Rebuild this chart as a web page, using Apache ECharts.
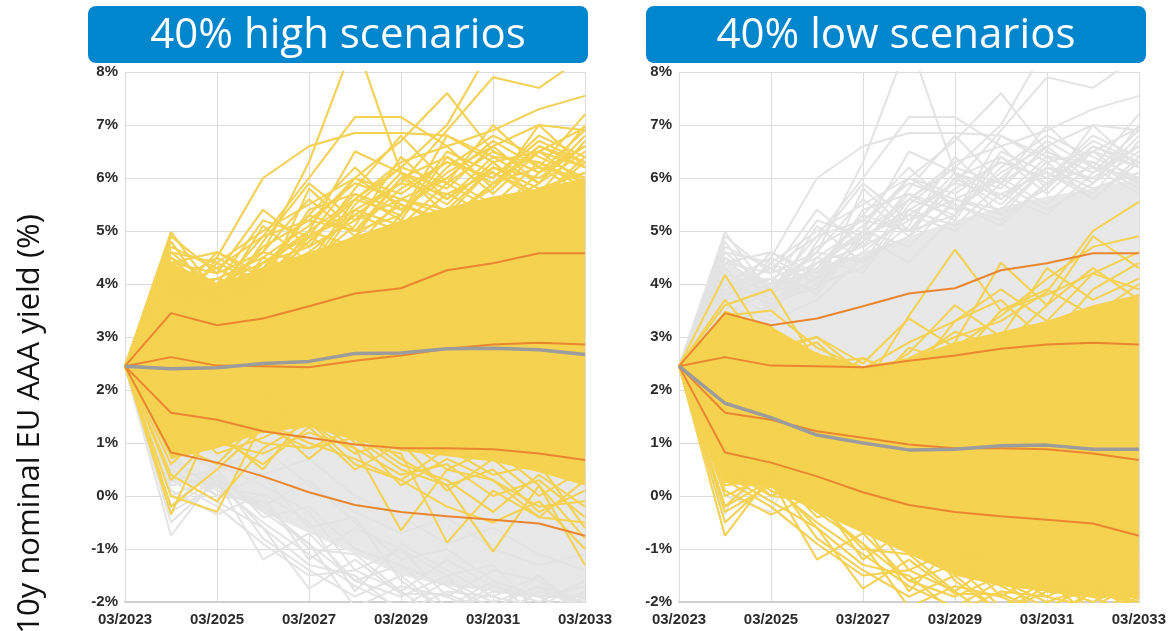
<!DOCTYPE html>
<html>
<head>
<meta charset="utf-8">
<script src="https://cdn.jsdelivr.net/npm/echarts@6/dist/echarts.min.js"></script>
<style>
  html, body { margin: 0; padding: 0; background: #ffffff; }
  #chart { width: 1169px; height: 631px; }
</style>
</head>
<body>
<div id="chart"></div>
<script>
// Simulated 10y nominal EU AAA yield paths, yearly points 03/2023 – 03/2033
const years = ['03/2023', '03/2024', '03/2025', '03/2026', '03/2027', '03/2028',
               '03/2029', '03/2030', '03/2031', '03/2032', '03/2033'];

const yTicks = { min: -2, max: 8, step: 1 };
const panelTitles = ['40% high scenarios', '40% low scenarios'];
const axisTitle = '10y nominal EU AAA yield (%)';

// Edges of the dense cloud of all scenarios
const cloudTop    = [2.45, 4.4, 4.0, 4.3, 4.6, 4.9, 5.2, 5.45, 5.65, 5.8, 6.0];
const cloudBottom = [2.45, 0.25, 0.15, -0.3, -0.7, -1.1, -1.5, -1.7, -1.8, -1.9, -1.9];
// Lower edge of the dense part of the high group
const highCoreBottom = [2.45, 0.7, 0.9, 1.2, 1.3, 1.05, 0.85, 0.75, 0.65, 0.45, 0.2];
// Upper edge of the dense part of the low group
const lowCoreTop = [2.45, 3.5, 3.2, 2.7, 2.45, 2.6, 2.9, 3.1, 3.3, 3.6, 3.8];

// Individual paths of the high group that stand out from the cloud
const highPaths = [
  [2.45, 3.3, 4.5, 6.0, 6.6, 6.85, 6.85, 6.8, 6.3, 6.5, 6.95],
  [2.45, 3.6, 3.9, 4.6, 6.3, 8.6, 6.1, 5.6, 6.2, 5.8, 6.1],
  [2.45, 3.8, 3.9, 4.9, 6.0, 7.15, 7.15, 6.6, 6.9, 7.3, 7.55],
  [2.45, 3.9, 3.4, 4.5, 5.1, 6.0, 6.7, 7.6, 6.5, 6.1, 6.6],
  [2.45, 4.0, 4.1, 3.9, 5.0, 5.6, 6.2, 7.0, 8.5, 8.2, 8.4],
  [2.45, 4.8, 3.6, 4.4, 4.9, 5.4, 5.9, 6.9, 7.9, 7.7, 8.3],
  [2.45, 4.98, 3.8, 4.3, 5.3, 5.0, 5.8, 6.3, 6.0, 6.7, 6.3],
  [2.45, 4.4, 4.2, 5.4, 4.7, 5.8, 6.8, 5.9, 7.0, 6.2, 7.2],
  [2.45, 3.7, 4.6, 4.2, 5.3, 6.2, 5.4, 6.1, 6.6, 5.9, 6.8],
  [2.45, 4.1, 3.7, 5.1, 4.4, 5.6, 6.3, 6.6, 5.8, 7.0, 6.2],
  [2.45, 4.6, 3.9, 4.6, 5.6, 4.9, 6.0, 5.5, 6.3, 5.6, 6.4],
  [2.45, 3.5, 4.4, 4.0, 4.8, 5.7, 5.2, 6.4, 5.7, 6.5, 5.9],
  [2.45, 4.3, 3.5, 4.8, 5.9, 5.2, 5.6, 5.3, 6.2, 6.0, 6.6],
  [2.45, 3.9, 4.3, 4.9, 5.2, 5.9, 5.6, 6.0, 5.5, 6.3, 5.8],
  [2.45, 4.5, 4.0, 4.4, 5.0, 6.5, 6.1, 5.8, 6.6, 7.0, 6.9],
  [2.45, 3.2, 3.6, 4.1, 4.6, 5.3, 5.0, 5.7, 6.1, 5.6, 6.3],
  [2.45, 3.6, 3.3, 3.7, 4.5, 4.9, 5.5, 5.2, 5.9, 6.2, 5.7],
  [2.45, 4.0, 4.5, 4.0, 4.3, 5.5, 6.2, 5.9, 5.4, 5.9, 6.5],
  [2.45, 4.7, 4.3, 3.8, 4.9, 4.4, 5.3, 6.2, 6.8, 6.4, 6.0],
  [2.45, 4.2, 3.8, 4.7, 5.2, 5.0, 6.0, 6.4, 5.9, 6.6, 6.2],
  [2.45, 3.8, 4.1, 4.5, 4.2, 5.4, 5.1, 5.9, 6.5, 6.1, 6.9],
  [2.45, 4.6, 4.4, 5.0, 5.5, 6.0, 5.7, 6.3, 6.0, 6.8, 6.4],
  [2.45, 3.4, 3.9, 4.3, 5.0, 4.7, 5.6, 5.4, 6.2, 5.8, 6.1],
  [2.45, 4.1, 3.6, 4.0, 4.8, 5.6, 5.3, 6.5, 6.1, 5.7, 6.7],
  [2.45, 4.9, 4.2, 4.6, 4.4, 5.1, 6.4, 5.6, 6.4, 6.3, 5.9],
  [2.45, 3.7, 4.0, 5.2, 4.9, 5.3, 5.9, 5.7, 5.3, 6.1, 6.6],
  [2.45, 4.4, 4.6, 4.1, 5.4, 5.7, 5.4, 6.0, 6.7, 6.2, 6.0],
  [2.45, 3.3, 3.5, 4.4, 4.7, 5.2, 6.1, 5.3, 5.8, 6.6, 6.3],
  [2.45, 4.0, 3.7, 3.9, 5.8, 5.0, 5.3, 6.8, 6.4, 5.9, 7.0],
  [2.45, 4.5, 3.7, 4.1, 4.9, 6.0, 5.5, 5.1, 5.9, 6.5, 6.2],
  [2.45, -0.35, 1.6, 1.9, 2.2, 1.6, 1.2, 0.8, 1.5, 1.2, 1.0],
  [2.45, 0.0, -0.3, 1.4, 1.9, 2.3, 1.5, 1.8, 2.0, 2.4, 2.2],
  [2.45, 0.3, 1.2, 0.5, 1.6, 2.0, 2.5, 1.9, 2.7, 2.5, 3.0],
  [2.45, 1.0, 0.6, 1.5, 0.7, 1.4, 1.0, 1.6, 1.3, 1.0, 1.4],
  [2.45, 1.8, 1.3, 1.7, 1.5, 0.9, -0.65, 0.5, 0.3, -0.2, -0.1],
  [2.45, 1.6, 1.1, 1.3, 1.8, 1.0, 0.8, -0.88, 0.1, -0.4, -0.5],
  [2.45, 2.0, 1.5, 1.9, 1.6, 1.1, 0.5, 0.2, -1.05, 0.2, -1.3],
  [2.45, 1.4, 1.8, 1.2, 1.4, 0.6, 0.3, -0.2, -0.5, -0.1, -1.0],
  [2.45, 1.2, 1.0, 0.8, 1.2, 0.9, 0.4, 0.6, 0.0, 0.3, -0.4],
  [2.45, 0.6, 1.4, 1.0, 0.9, 1.3, 0.7, 0.2, 0.5, -0.3, 0.1],
  [2.45, 1.5, 1.2, 1.4, 1.0, 0.7, 0.3, 0.9, 0.4, 0.6, -0.6],
  [2.45, 0.9, 1.1, 0.6, 1.3, 0.5, 1.0, 0.1, 0.7, 0.0, 0.5],
  [2.45, 1.7, 0.8, 1.1, 1.5, 1.2, 0.6, 0.3, -0.3, 0.4, -0.2],
  [2.45, -0.2, 0.5, 1.3, 0.9, 1.1, 0.2, 0.7, 0.3, -0.4, 0.3],
  [2.45, 0.4, -0.1, 0.9, 1.4, 0.8, 1.1, 0.5, 0.9, 0.2, -0.8]
];

// Individual paths of the low group that stand out from the cloud
const lowPaths = [
  [2.45, -0.75, 0.4, -0.2, 0.3, -0.5, -1.2, -1.0, -1.6, -1.9, -1.9],
  [2.45, -0.3, 0.2, 0.0, -1.2, -0.6, -1.0, -1.5, -1.3, -2.2, -1.8],
  [2.45, 0.1, -0.35, 0.05, -0.5, -1.8, -0.9, -1.4, -1.9, -1.5, -2.3],
  [2.45, 0.5, 0.0, -0.1, -1.0, -1.1, -1.8, -1.2, -1.7, -2.0, -1.6],
  [2.45, 0.2, 0.35, -0.3, -0.9, -1.6, -1.9, -1.5, -2.4, -1.8, -2.0],
  [2.45, -0.2, 0.6, 0.2, -0.3, -1.4, -1.0, -1.9, -1.4, -1.6, -2.1],
  [2.45, 0.8, 0.0, 0.4, -0.6, -0.4, -1.6, -2.2, -1.8, -1.9, -1.7],
  [2.45, 0.3, 0.5, -0.4, -0.2, -1.0, -1.3, -1.7, -2.1, -1.7, -1.95],
  [2.45, 0.9, 0.5, 0.9, 0.2, -0.3, -0.7, -0.4, -1.0, -1.3, -1.1],
  [2.45, 1.1, 0.8, 0.4, 0.7, 0.0, -0.4, -0.9, -0.6, -1.1, -1.4],
  [2.45, 0.4, -0.1, -0.6, -1.75, -1.2, -1.85, -1.85, -2.2, -1.5, -2.2],
  [2.45, -0.2, 0.3, -1.2, -0.7, -1.6, -1.3, -2.1, -1.6, -2.3, -1.9],
  [2.45, 0.6, 0.2, -0.5, -1.1, -1.7, -2.1, -1.6, -2.0, -2.4, -1.8],
  [2.45, 0.0, 0.4, -0.8, -1.4, -1.9, -1.5, -2.2, -1.7, -1.9, -2.3],
  [2.45, 0.7, 0.1, -0.2, -0.9, -2.1, -1.7, -1.9, -2.3, -1.8, -2.0],
  [2.45, -0.5, 0.3, -0.6, -1.3, -1.5, -2.2, -1.8, -1.9, -2.1, -1.6],
  [2.45, 0.3, -0.2, -0.9, -1.5, -1.4, -1.8, -2.4, -2.0, -1.7, -2.2],
  [2.45, 2.9, 2.5, 2.1, 2.0, 3.4, 4.65, 3.5, 3.8, 4.2, 3.9],
  [2.45, 4.17, 2.8, 3.0, 2.3, 2.6, 3.0, 3.3, 3.85, 5.0, 5.55],
  [2.45, 3.6, 3.9, 2.5, 2.6, 2.2, 2.9, 4.4, 3.6, 4.9, 4.3],
  [2.45, 3.7, 2.7, 3.0, 2.5, 3.35, 2.8, 3.4, 4.1, 4.7, 4.9],
  [2.45, 3.4, 3.5, 2.8, 2.4, 2.9, 3.3, 3.9, 3.3, 4.2, 4.6],
  [2.45, 3.1, 2.6, 2.9, 2.1, 2.7, 3.6, 3.0, 4.3, 3.7, 4.1],
  [2.45, 1.9, 1.2, 1.5, 0.8, 1.6, 2.2, 2.8, 2.5, 3.4, 3.8],
  [2.45, 2.2, 2.9, 2.0, 2.6, 2.2, 3.3, 3.7, 2.9, 3.9, 4.4],
  [2.45, 3.3, 2.4, 2.7, 1.9, 2.8, 2.5, 3.5, 3.9, 3.4, 4.0],
  [2.45, 2.7, 3.2, 2.3, 2.2, 2.5, 3.1, 2.8, 3.6, 4.3, 3.7]
];

// Percentile bands across all scenarios
const pctUpper  = [2.45, 3.45, 3.22, 3.35, 3.58, 3.82, 3.92, 4.26, 4.39, 4.58, 4.58];
const pctMidHi  = [2.45, 2.62, 2.46, 2.45, 2.43, 2.55, 2.65, 2.78, 2.86, 2.89, 2.86];
const pctMidLo  = [2.45, 1.57, 1.44, 1.22, 1.1, 0.97, 0.9, 0.9, 0.88, 0.8, 0.68];
const pctLower  = [2.45, 0.82, 0.63, 0.37, 0.07, -0.17, -0.3, -0.38, -0.45, -0.52, -0.75];

// Median path of each selected group
const highMedian = [2.45, 2.4, 2.42, 2.5, 2.54, 2.69, 2.7, 2.78, 2.79, 2.76, 2.67];
const lowMedian  = [2.45, 1.75, 1.48, 1.15, 1.0, 0.87, 0.88, 0.95, 0.96, 0.88, 0.88];

const YELLOW = '#F5D24F';
const CLOUD_GREY = '#E8E8E8';
const PATH_GREY = '#E3E3E3';
const ORANGE = '#EA862F';
const MEDIAN_GREY = '#9C9C9C';
const TITLE_BLUE = '#0086CD';

const chart = echarts.init(document.getElementById('chart'), null, { renderer: 'canvas' });

function lineSeries(panel, data, color, width, layer, extra) {
  return Object.assign({
    type: 'line',
    xAxisIndex: panel,
    yAxisIndex: panel,
    data: data,
    z: layer,
    symbol: 'none',
    silent: true,
    clip: true,
    lineStyle: { color: color, width: width },
    emphasis: { disabled: true }
  }, extra || {});
}

function bandSeries(panel, lower, upper, color, key, layer) {
  const thickness = upper.map((v, i) => v - lower[i]);
  return [
    lineSeries(panel, lower, color, 0, layer, {
      stack: key, stackStrategy: 'all', lineStyle: { opacity: 0, width: 0 }
    }),
    lineSeries(panel, thickness, color, 0, layer, {
      stack: key, stackStrategy: 'all', lineStyle: { opacity: 0, width: 0 },
      areaStyle: { color: color, opacity: 1 }
    })
  ];
}

function panelSeries(panel) {
  const out = [];
  // every scenario in grey
  out.push(...bandSeries(panel, cloudBottom, cloudTop, CLOUD_GREY, 'cloud' + panel, 2));
  highPaths.concat(lowPaths).forEach(p => out.push(lineSeries(panel, p, PATH_GREY, 2, 3)));
  // selected group in yellow
  if (panel === 0) {
    out.push(...bandSeries(panel, highCoreBottom, cloudTop, YELLOW, 'sel' + panel, 4));
    highPaths.forEach(p => out.push(lineSeries(panel, p, YELLOW, 2, 5)));
  } else {
    out.push(...bandSeries(panel, cloudBottom, lowCoreTop, YELLOW, 'sel' + panel, 4));
    lowPaths.forEach(p => out.push(lineSeries(panel, p, YELLOW, 2, 5)));
  }
  [pctUpper, pctMidHi, pctMidLo, pctLower].forEach(p =>
    out.push(lineSeries(panel, p, ORANGE, 2, 6)));
  out.push(lineSeries(panel, panel === 0 ? highMedian : lowMedian, MEDIAN_GREY, 3.5, 7));
  return out;
}

const tickFont = { fontFamily: 'Liberation Sans, Arial, sans-serif', fontWeight: 'bold', fontSize: 15, color: '#2b2b2b' };

function xAxis(panel) {
  return {
    type: 'category', gridIndex: panel, data: years, boundaryGap: false,
    axisLine: { show: true, onZero: false, lineStyle: { color: '#cfcfcf', width: 2 } },
    axisTick: { show: false },
    axisLabel: Object.assign({ interval: 1, margin: 10 }, tickFont),
    splitLine: { show: true, interval: 1, lineStyle: { color: '#dcdcdc', width: 1 } }
  };
}
function yAxis(panel) {
  return {
    type: 'value', gridIndex: panel, min: yTicks.min, max: yTicks.max, interval: yTicks.step,
    axisLine: { show: false }, axisTick: { show: false },
    axisLabel: Object.assign({ formatter: '{value}%', margin: 7 }, tickFont),
    splitLine: { show: true, lineStyle: { color: '#dcdcdc', width: 1 } }
  };
}

function titleBox(left, text) {
  return {
    type: 'group', left: left, top: 6,
    children: [
      { type: 'rect', shape: { x: 0, y: 0, width: 500, height: 57, r: 8 }, style: { fill: TITLE_BLUE } },
      { type: 'text', x: 250, y: 30, style: {
          text: text, fill: '#ffffff', font: '42px "Open Sans", "Noto Sans", sans-serif',
          textAlign: 'center', textVerticalAlign: 'middle' } }
    ]
  };
}

chart.setOption({
  animation: false,
  backgroundColor: '#ffffff',
  grid: [
    { left: 125, top: 72, width: 460, height: 530 },
    { left: 679, top: 72, width: 460, height: 530 }
  ],
  xAxis: [xAxis(0), xAxis(1)],
  yAxis: [yAxis(0), yAxis(1)],
  series: panelSeries(0).concat(panelSeries(1)),
  graphic: [
    titleBox(88, panelTitles[0]),
    titleBox(646, panelTitles[1]),
    { type: 'text', x: 30, y: 424, rotation: Math.PI / 2, style: {
        text: axisTitle, fill: '#111111', font: '31px "Open Sans", "Noto Sans", sans-serif',
        textAlign: 'center', textVerticalAlign: 'middle' } }
  ]
});
</script>
</body>
</html>
